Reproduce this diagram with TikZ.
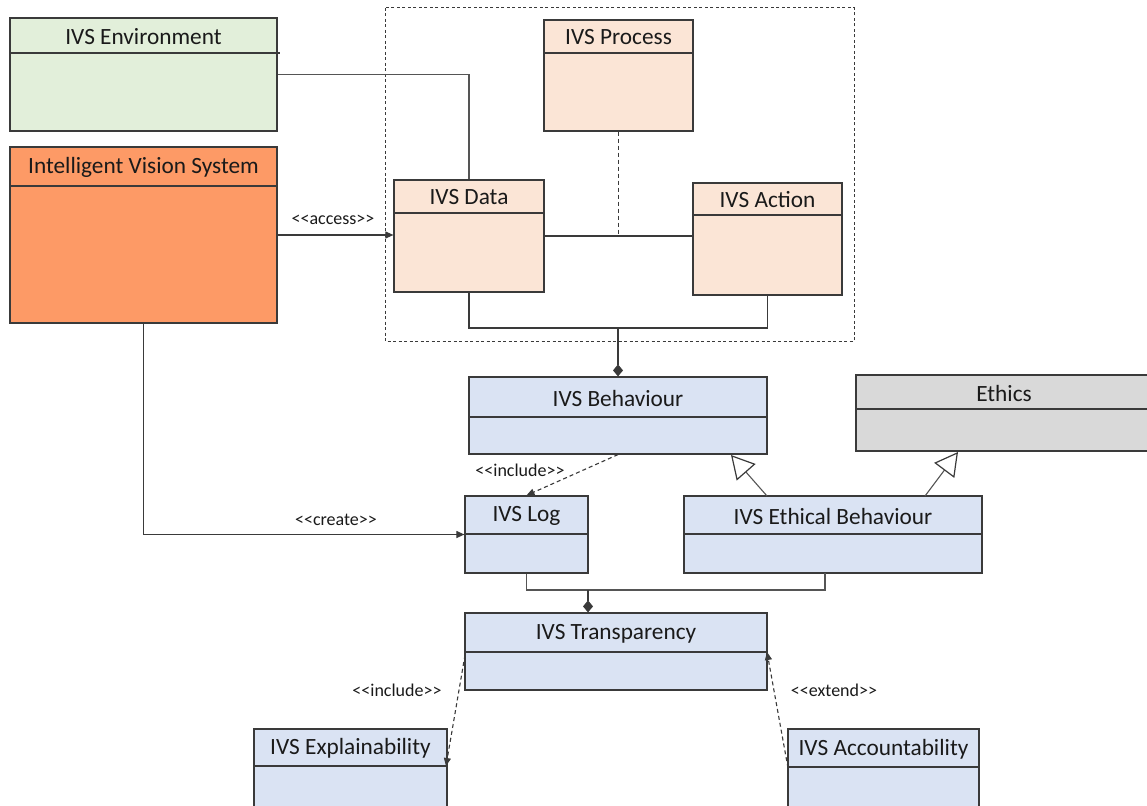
\documentclass[tikz,border=0pt]{standalone}
\usepackage{fontspec}
\setmainfont{Carlito}
\usetikzlibrary{arrows.meta,calc,fit}
\definecolor{envc}{HTML}{E2EFDA}
\definecolor{isvc}{HTML}{FD9A66}
\definecolor{peach}{HTML}{FBE5D6}
\definecolor{bluec}{HTML}{DAE3F3}
\definecolor{grayc}{HTML}{D9D9D9}
\definecolor{edgec}{HTML}{3A3A3A}
\definecolor{linec}{HTML}{555555}
\definecolor{txtc}{HTML}{1A1A1A}
\tikzset{
  clsbox/.style={draw=edgec, line width=1.2pt, inner sep=0pt},
  divline/.style={draw=edgec, line width=1.2pt},
  clstitle/.style={font=\fontsize{23.3}{27}\selectfont, text=txtc, inner sep=0pt},
  stereo/.style={font=\fontsize{18}{21}\selectfont, text=txtc, inner sep=0pt},
  conn/.style={draw=edgec, line width=1.1pt},
  gconn/.style={draw=linec, line width=1.1pt},
  dconn/.style={draw=edgec, line width=1.1pt, dash pattern=on 4pt off 3pt},
  fillarrow/.style={-{Triangle[length=8pt,width=7pt]}},
  genarrow/.style={-{Triangle[open,length=23pt,width=25pt,line width=1.2pt,color=edgec,fill=white]}},
  diamarrow/.style={-{Diamond[length=12pt,width=10pt]}},
}
\newcommand\stq[1]{<{}<#1>{}>}
% name x1 y1 x2 y2 ydiv fill title
\newcommand\umlcls[8]{%
  \node[clsbox, fill=#7, fit={(#2,#3) (#4,#5)}] (#1) {};
  \draw[divline] (#2,#6) -- (#4,#6);
  \node[clstitle] at ({(#2+#4)/2},{(#3+#6)/2+1}) {#8};
}
\begin{document}
\begin{tikzpicture}[x=1pt,y=-1pt]
\useasboundingbox[fill=white] (0,0) rectangle (1147,805);
\clip (0,0) rectangle (1147,805);

% package frame
\draw[draw=edgec, line width=1pt, dash pattern=on 3pt off 2.5pt] (385,8) rectangle (854,341);

% classes
\umlcls{env}{10}{18}{277}{131}{53}{envc}{IVS Environment}
\draw[divline] (277,53) -- (280,53);
\umlcls{isv}{10}{147}{277}{323}{186}{isvc}{Intelligent Vision System}
\umlcls{proc}{544}{20}{693}{131}{53}{peach}{IVS Process}
\umlcls{data}{394}{180}{544}{292}{213}{peach}{IVS Data}
\umlcls{act}{693}{183}{842}{295}{215}{peach}{IVS Action}
\umlcls{beh}{469}{377}{767}{454}{417}{bluec}{IVS Behaviour}
\umlcls{eth}{856}{375}{1152}{451}{409}{grayc}{Ethics}
\umlcls{log}{465}{496}{588}{573}{534}{bluec}{IVS Log}
\umlcls{ethb}{684}{496}{982}{573}{534}{bluec}{IVS Ethical Behaviour}
\umlcls{tra}{465}{613}{767}{690}{652}{bluec}{IVS Transparency}
\umlcls{expl}{254}{729}{447}{815}{766}{bluec}{IVS Explainability}
\umlcls{acc}{788}{729}{979}{815}{767}{bluec}{IVS Accountability}

% junction coordinates
\coordinate (j1) at (618,328);
\coordinate (j2) at (588,590);
\coordinate (gb1) at (767,496);
\coordinate (gt1) at (731,455);
\coordinate (gb2) at (925,496);
\coordinate (gt2) at (958,452);
\coordinate (ethbs) at (825,573);
\coordinate (trl) at (465,655);
\coordinate (exr) at (446,766);
\coordinate (acl) at (788,768);
\coordinate (trr) at (767,652);

% connectors
\draw[gconn] (env.east) -| (data.north);
\draw[conn] (data.east) -- (act.west |- data.east);
\draw[dconn] (proc.south) -- (proc.south |- data.east);
\draw[conn, fillarrow] (isv.east) -- (data.west |- isv.east);
\node[stereo] at (333,220) {\stq{access}};
\draw[conn] (data.south) |- (j1) -| (act.south);
\draw[conn, diamarrow] (j1) -- (beh.north);
\draw[dconn, fillarrow] (beh.south) -- (log.north);
\node[stereo] at (520,470) {\stq{include}};
\draw[gconn, genarrow] (gb1) -- (gt1);
\draw[gconn, genarrow] (gb2) -- (gt2);
\draw[conn, fillarrow] (isv.south) |- (log.west);
\node[stereo] at (336,520) {\stq{create}};
\draw[gconn] (log.south) |- (j2) -| (ethbs);
\draw[conn, diamarrow] (j2) -- (j2 |- tra.north);
\draw[dconn, fillarrow] (trl) -- (exr);
\node[stereo] at (397,690) {\stq{include}};
\draw[dconn, fillarrow] (acl) -- (trr);
\node[stereo] at (834,690) {\stq{extend}};
\end{tikzpicture}
\end{document}
